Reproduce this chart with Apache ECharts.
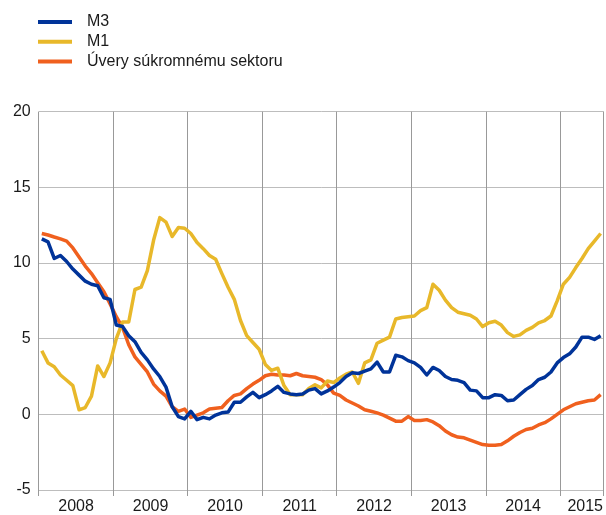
<!DOCTYPE html>
<html>
<head>
<meta charset="utf-8">
<script src="https://cdn.jsdelivr.net/npm/echarts@6/dist/echarts.min.js"></script>
<style>
	html, body { margin: 0; padding: 0; background: #fff; }
	#chart { width: 606px; height: 515px; }
</style>
</head>
<body>
<div id="chart"></div>
<script>
// monthly data, Jan 2008 .. Jul 2015 (annual growth, %)
const years = ['2008', '2009', '2010', '2011', '2012', '2013', '2014', '2015'];
const monthsInLastYear = 7;

const m3 = [
	11.6, 11.4, 10.3, 10.5, 10.1, 9.6, 9.2, 8.8, 8.6, 8.5, 7.7, 7.6,
	5.9, 5.8, 5.2, 4.8, 4.1, 3.6, 3.0, 2.5, 1.8, 0.5, -0.15, -0.3,
	0.2, -0.35, -0.2, -0.3, -0.05, 0.1, 0.15, 0.8, 0.8, 1.15, 1.45, 1.1,
	1.3, 1.55, 1.85, 1.45, 1.35, 1.3, 1.35, 1.6, 1.7, 1.35, 1.55, 1.8,
	2.1, 2.5, 2.75, 2.7, 2.85, 3.0, 3.45, 2.8, 2.8, 3.9, 3.8, 3.55,
	3.4, 3.1, 2.6, 3.1, 2.9, 2.5, 2.3, 2.25, 2.1, 1.6, 1.55, 1.1,
	1.1, 1.3, 1.25, 0.9, 0.95, 1.3, 1.65, 1.9, 2.3, 2.45, 2.8, 3.4,
	3.75, 4.0, 4.45, 5.1, 5.1, 4.95, 5.2
];
const m1 = [
	4.2, 3.4, 3.15, 2.6, 2.25, 1.9, 0.3, 0.45, 1.2, 3.2, 2.5, 3.4,
	5.0, 6.1, 6.1, 8.25, 8.4, 9.5, 11.5, 13.0, 12.7, 11.75, 12.35, 12.3,
	11.95, 11.35, 10.95, 10.5, 10.25, 9.3, 8.4, 7.6, 6.2, 5.2, 4.75, 4.3,
	3.3, 2.9, 3.05, 1.9, 1.3, 1.3, 1.3, 1.7, 1.95, 1.75, 2.2, 2.1,
	2.4, 2.65, 2.8, 2.05, 3.4, 3.6, 4.7, 4.9, 5.1, 6.3, 6.4, 6.45,
	6.5, 6.85, 7.05, 8.6, 8.2, 7.55, 7.05, 6.75, 6.65, 6.55, 6.3, 5.8,
	6.05, 6.15, 5.9, 5.4, 5.15, 5.25, 5.55, 5.75, 6.05, 6.2, 6.5, 7.5,
	8.6, 9.05, 9.7, 10.3, 10.95, 11.45, 11.95
];
const loans = [
	11.95, 11.85, 11.72, 11.6, 11.45, 11.0, 10.4, 9.8, 9.3, 8.7, 8.1, 7.3,
	6.45, 5.75, 4.6, 3.8, 3.3, 2.8, 2.0, 1.55, 1.2, 0.5, 0.2, 0.35,
	-0.2, -0.05, 0.1, 0.35, 0.4, 0.45, 0.9, 1.25, 1.35, 1.7, 2.0, 2.25,
	2.55, 2.65, 2.6, 2.6, 2.55, 2.7, 2.55, 2.5, 2.45, 2.3, 1.95, 1.4,
	1.25, 0.95, 0.75, 0.55, 0.3, 0.2, 0.1, -0.05, -0.25, -0.45, -0.45, -0.15,
	-0.4, -0.4, -0.35, -0.5, -0.75, -1.1, -1.35, -1.5, -1.55, -1.7, -1.85, -2.0,
	-2.05, -2.05, -2.0, -1.75, -1.45, -1.2, -1.0, -0.92, -0.7, -0.55, -0.3, 0.0,
	0.3, 0.5, 0.7, 0.8, 0.9, 0.95, 1.3
];
const seriesNames = ['M3', 'M1', 'Úvery súkromnému sektoru'];
const seriesColors = ['#003399', '#E8B82A', '#F0601E'];

// category labels: one per month, year label shown mid-year
let months = [];
for (let y = 0; y < years.length; y++) {
	let n = (y === years.length - 1) ? monthsInLastYear : 12;
	for (let m = 0; m < n; m++) {
		months.push(years[y] + '-' + (m + 1));
	}
}

const font = '"Liberation Sans", Arial, sans-serif';
let chart = echarts.init(document.getElementById('chart'), null, { renderer: 'canvas' });

let yearStart = function(idx) {
	return idx % 12 === 0;
};
let yearLabel = function(idx) {
	return (idx % 12 === 6 && idx < 84) || idx === 88;
};

let option = {
	animation: false,
	backgroundColor: '#ffffff',
	color: seriesColors,
	legend: {
		left: 33,
		top: 9,
		orient: 'vertical',
		icon: 'rect',
		itemWidth: 34,
		itemHeight: 4,
		itemGap: 3.7,
		textStyle: {
			fontFamily: font,
			fontSize: 16,
			lineHeight: 16,
			color: '#1a1a1a',
			padding: [0, 0, 0, 10]
		},
		data: seriesNames
	},
	grid: {
		left: 38.7,
		right: -1.5,
		top: 111.7,
		bottom: 25,
		containLabel: false
	},
	xAxis: {
		type: 'category',
		data: months,
		boundaryGap: true,
		axisLine: { show: false, onZero: false },
		axisTick: {
			show: true,
			interval: yearStart,
			length: 6,
			lineStyle: { color: '#999999' }
		},
		axisLabel: {
			interval: yearLabel,
			formatter: function(v) { return v.split('-')[0]; },
			fontFamily: font,
			fontSize: 16,
			color: '#1a1a1a',
			margin: 9,
			padding: [0, 6, 0, 0]
		},
		splitLine: {
			show: true,
			interval: yearStart,
			lineStyle: { color: '#999999', width: 1 }
		}
	},
	yAxis: {
		type: 'value',
		min: -5,
		max: 20,
		interval: 5,
		axisLine: { show: false },
		axisTick: { show: false },
		axisLabel: {
			fontFamily: font,
			fontSize: 16,
			color: '#1a1a1a',
			margin: 8
		},
		splitLine: {
			show: true,
			lineStyle: { color: '#bdbdbd', width: 1 }
		}
	},
	series: [
		{ name: seriesNames[0], type: 'line', data: m3 },
		{ name: seriesNames[1], type: 'line', data: m1 },
		{ name: seriesNames[2], type: 'line', data: loans }
	].map(function(s, i) {
		s.showSymbol = false;
		s.symbol = 'none';
		s.lineStyle = { width: 3.5, color: seriesColors[i], join: 'round' };
		s.z = 3 - i;
		return s;
	})
};

chart.setOption(option);
</script>
</body>
</html>
